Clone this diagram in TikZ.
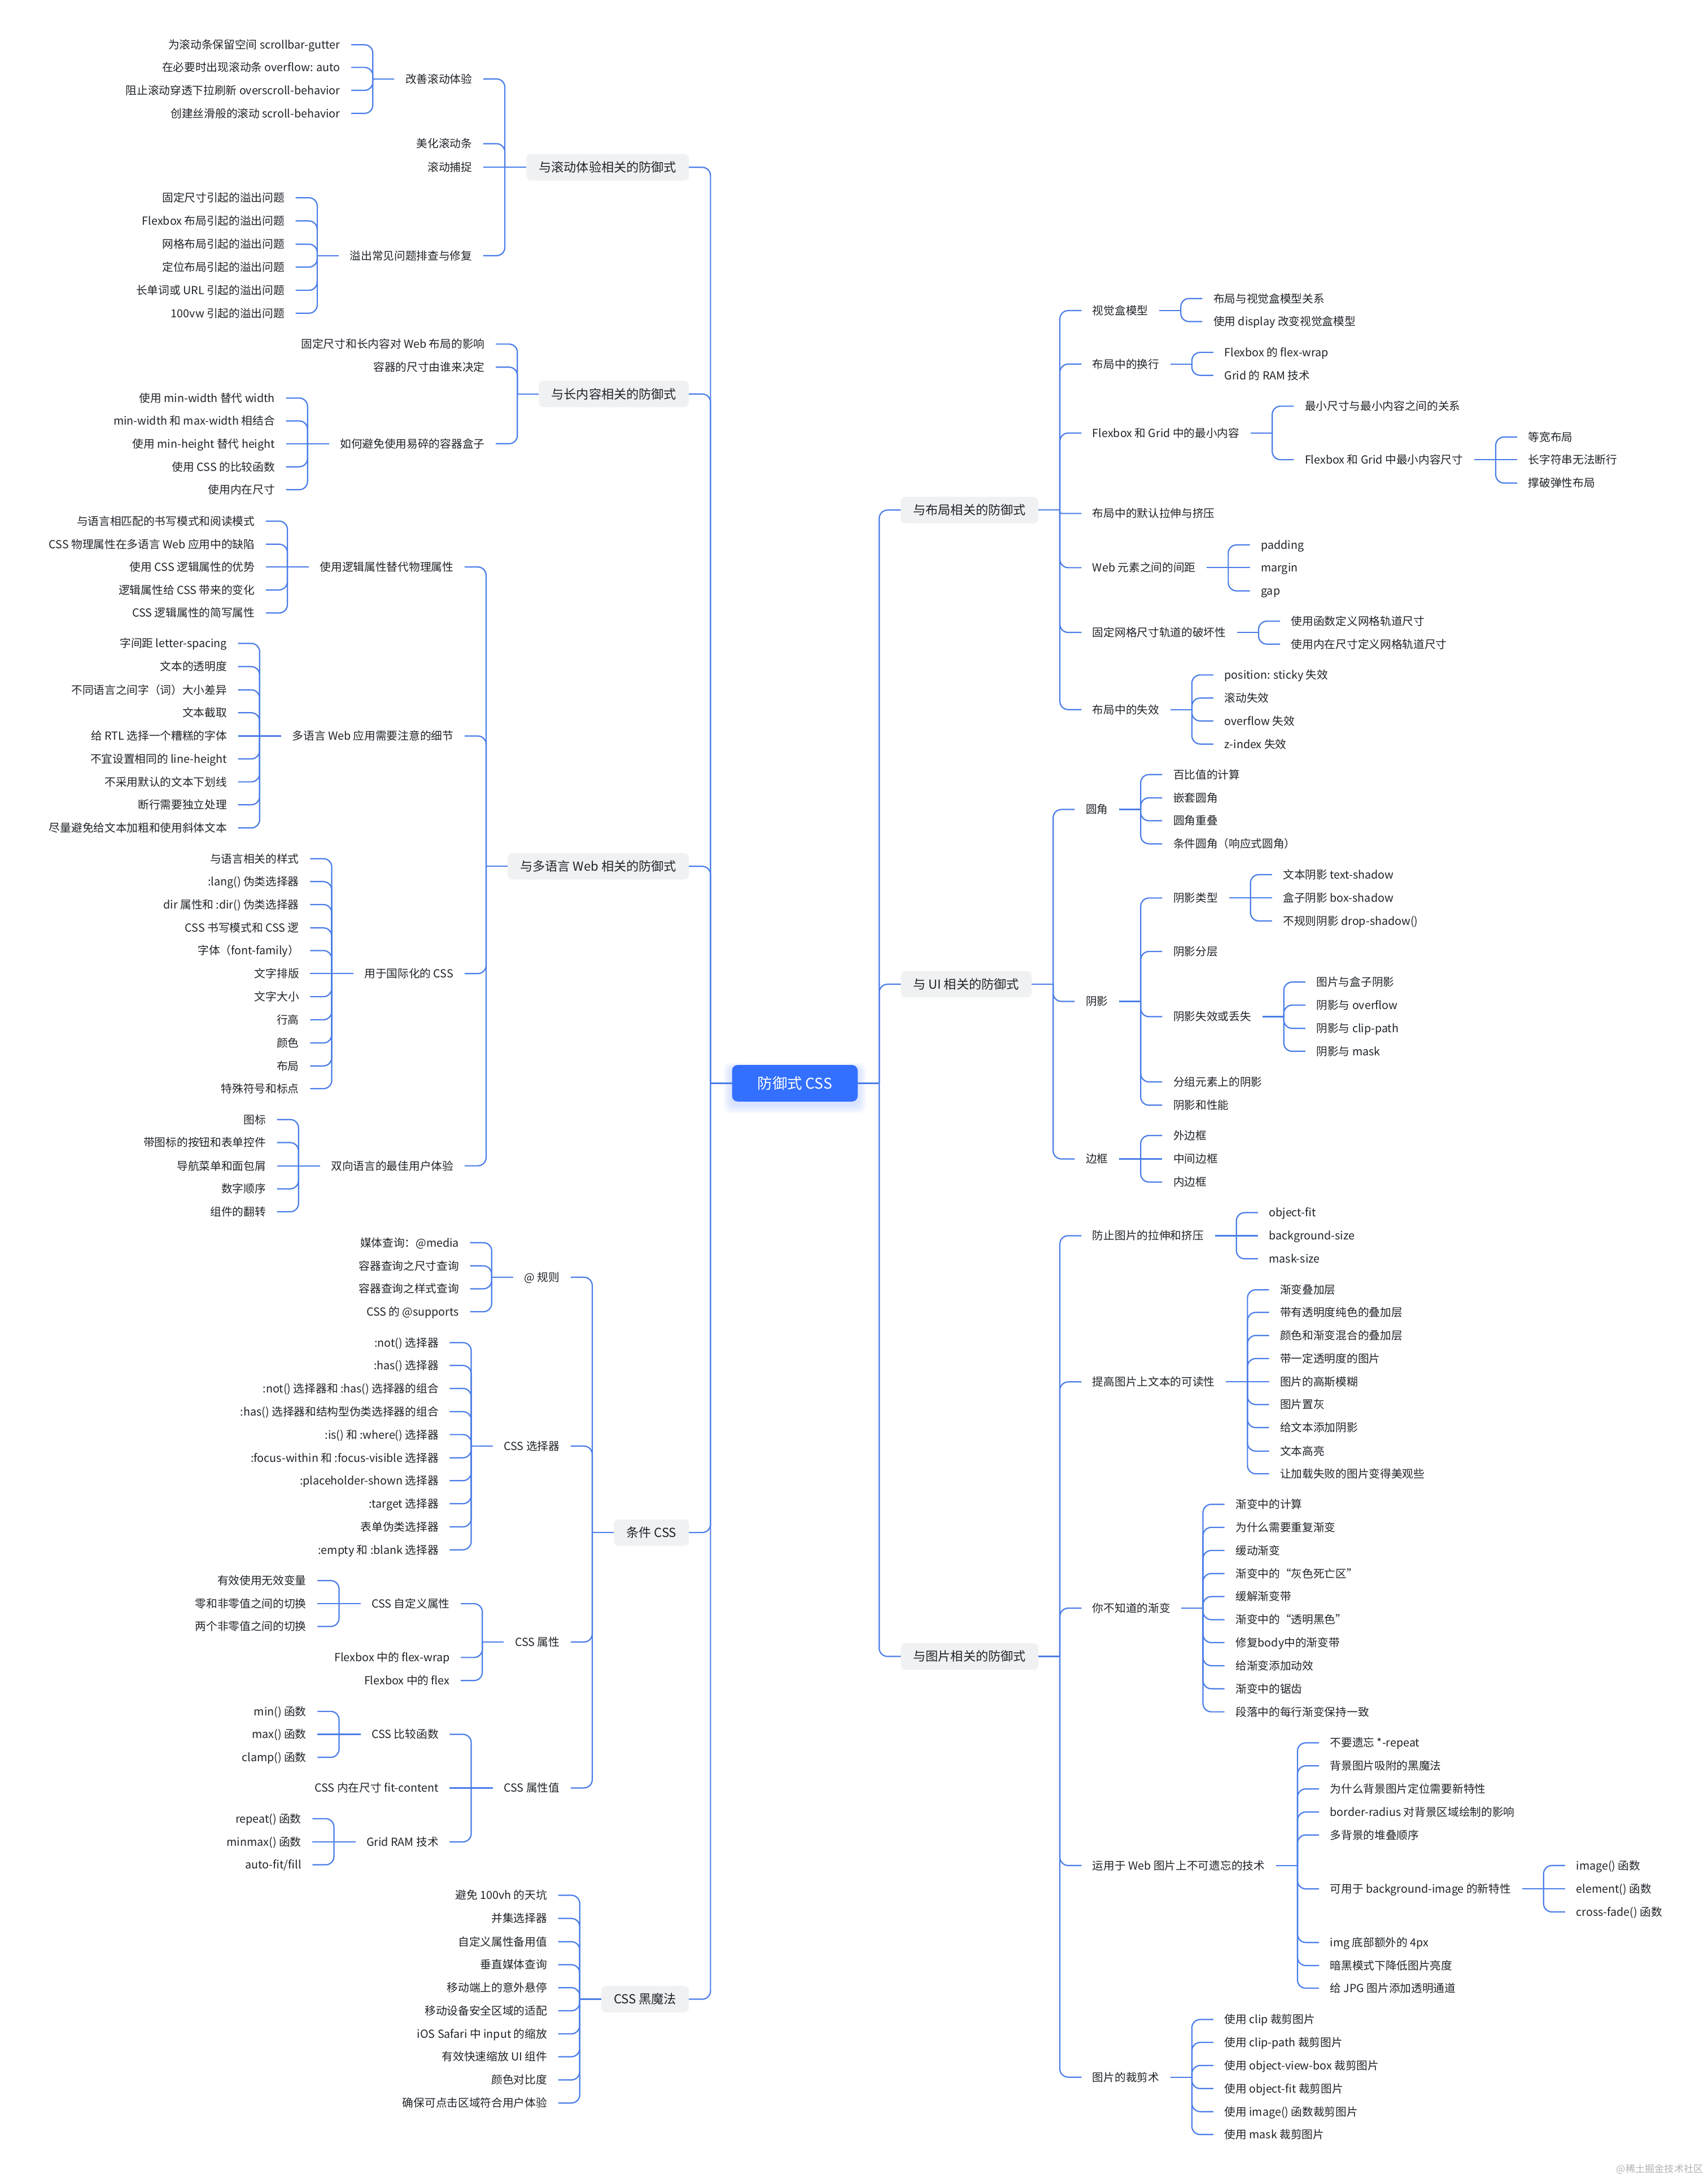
\documentclass[tikz,border=0pt]{standalone}
\usepackage{fontspec}
\setmainfont{Noto Sans CJK SC}
\usetikzlibrary{calc}
\definecolor{lineblue}{HTML}{4A7DE8}
\definecolor{txtc}{HTML}{1F2329}
\definecolor{catgray}{HTML}{F0F1F3}
\definecolor{rootblue}{HTML}{3370FF}
\tikzset{
  conn/.style={draw=lineblue, line width=0.9pt, rounded corners=6pt},
  tx/.style={inner xsep=0pt, inner ysep=1pt, outer xsep=8pt, outer ysep=0pt, text=txtc,
    font=\fontsize{8}{9.6}\selectfont, text height=7pt, text depth=1pt},
  catbox/.style={fill=catgray, rounded corners=3.5pt, inner xsep=9pt, inner ysep=0pt,
    minimum height=19pt, text=txtc, font=\fontsize{9}{10.8}\selectfont,
    text height=7.9pt, text depth=1.1pt, outer sep=0pt},
  rootbox/.style={fill=rootblue, rounded corners=4pt, minimum width=90.4pt, minimum height=26.3pt,
    text=white, font=\fontsize{10.7}{12}\selectfont, text height=9.4pt, text depth=1.3pt, outer sep=0pt},
  wmark/.style={inner sep=0pt, text=black!30, font=\fontsize{7}{8}\selectfont}
}
% left-side child: name, parent, y, text
\newcommand\lkid[5][tx]{\node[#1,anchor=east,xshift=-31pt] (#2) at (#3.west |- 0,#4) {#5};
  \draw[conn] ($(#3.west)+(-15.5pt,0)$) |- (#2.east);}
\newcommand\lmid[4][tx]{\node[#1,anchor=east,xshift=-31pt] (#2) at (#3.west) {#4};
  \draw[conn] (#3.west) -- (#2.east);}
\newcommand\lstub[1]{\draw[conn] (#1.west) -- ++(-15.5pt,0);}
% right-side child
\newcommand\rkid[5][tx]{\node[#1,anchor=west,xshift=31pt] (#2) at (#3.east |- 0,#4) {#5};
  \draw[conn] ($(#3.east)+(15.5pt,0)$) |- (#2.west);}
\newcommand\rmid[4][tx]{\node[#1,anchor=west,xshift=31pt] (#2) at (#3.east) {#4};
  \draw[conn] (#3.east) -- (#2.west);}
\newcommand\rstub[1]{\draw[conn] (#1.east) -- ++(15.5pt,0);}
\begin{document}
\begin{tikzpicture}[x=1pt,y=-1pt]
\fill[white] (0,0) rectangle (1229,1568);
\useasboundingbox (0,0) rectangle (1229,1568);
% soft glow under the root
\foreach \i in {1,...,6}{\fill[rootblue,opacity=0.03,rounded corners=5pt] (526.8-\i,768.4-\i*0.6) rectangle (617.2+\i,794.6+\i*1.1);}
\node[rootbox] (root) at (572,779.5) {防御式 CSS};
\lstub{root}
\rstub{root}
% ================= LEFT =================
\lkid[catbox]{ca}{root}{120.4}{与滚动体验相关的防御式}
\lkid[catbox]{cb}{root}{283.5}{与长内容相关的防御式}
\lkid[catbox]{cc}{root}{623.4}{与多语言 Web 相关的防御式}
\lkid[catbox]{cd}{root}{1102.8}{条件 CSS}
\lkid[catbox]{ce}{root}{1438.6}{CSS 黑魔法}
% --- ca
\lkid{ca1}{ca}{56.8}{改善滚动体验}
\lkid{ca2}{ca}{103.4}{美化滚动条}
\lmid{ca3}{ca}{滚动捕捉}
\lkid{ca4}{ca}{184}{溢出常见问题排查与修复}
\lstub{ca1}
\lkid{ca1a}{ca1}{32.2}{为滚动条保留空间 scrollbar-gutter}
\lkid{ca1b}{ca1}{48.5}{在必要时出现滚动条 overflow: auto}
\lkid{ca1c}{ca1}{65.0}{阻止滚动穿透下拉刷新 overscroll-behavior}
\lkid{ca1d}{ca1}{81.6}{创建丝滑般的滚动 scroll-behavior}
\lstub{ca4}
\lkid{ca4a}{ca4}{142.3}{固定尺寸引起的溢出问题}
\lkid{ca4b}{ca4}{159.0}{Flexbox 布局引起的溢出问题}
\lkid{ca4c}{ca4}{175.7}{网格布局引起的溢出问题}
\lkid{ca4d}{ca4}{192.2}{定位布局引起的溢出问题}
\lkid{ca4e}{ca4}{208.9}{长单词或 URL 引起的溢出问题}
\lkid{ca4f}{ca4}{225.4}{100vw 引起的溢出问题}
% --- cb
\lstub{cb}
\lkid{cb1}{cb}{247.6}{固定尺寸和长内容对 Web 布局的影响}
\lkid{cb2}{cb}{264.2}{容器的尺寸由谁来决定}
\lkid{cb3}{cb}{319.3}{如何避免使用易碎的容器盒子}
\lkid{cb3a}{cb3}{286.4}{使用 min-width 替代 width}
\lkid{cb3b}{cb3}{302.9}{min-width 和 max-width 相结合}
\lmid{cb3c}{cb3}{使用 min-height 替代 height}
\lkid{cb3d}{cb3}{335.9}{使用 CSS 的比较函数}
\lkid{cb3e}{cb3}{352.4}{使用内在尺寸}
% --- cc
\lstub{cc}
\lkid{cc1}{cc}{408}{使用逻辑属性替代物理属性}
\lkid{cc2}{cc}{529.6}{多语言 Web 应用需要注意的细节}
\lkid{cc3}{cc}{700.6}{用于国际化的 CSS}
\lkid{cc4}{cc}{838.9}{双向语言的最佳用户体验}
\lkid{cc1a}{cc1}{375}{与语言相匹配的书写模式和阅读模式}
\lkid{cc1b}{cc1}{391.6}{CSS 物理属性在多语言 Web 应用中的缺陷}
\lmid{cc1c}{cc1}{使用 CSS 逻辑属性的优势}
\lkid{cc1d}{cc1}{424.5}{逻辑属性给 CSS 带来的变化}
\lkid{cc1e}{cc1}{441.1}{CSS 逻辑属性的简写属性}
\lkid{cc2a}{cc2}{463}{字间距 letter-spacing}
\lkid{cc2b}{cc2}{479.7}{文本的透明度}
\lkid{cc2c}{cc2}{496.4}{不同语言之间字（词）大小差异}
\lkid{cc2d}{cc2}{512.9}{文本截取}
\lmid{cc2e}{cc2}{给 RTL 选择一个糟糕的字体}
\lkid{cc2f}{cc2}{546.1}{不宜设置相同的 line-height}
\lkid{cc2g}{cc2}{562.6}{不采用默认的文本下划线}
\lkid{cc2h}{cc2}{579.1}{断行需要独立处理}
\lkid{cc2i}{cc2}{595.8}{尽量避免给文本加粗和使用斜体文本}
\lkid{cc3a}{cc3}{617.9}{与语言相关的样式}
\lkid{cc3b}{cc3}{634.4}{:lang() 伪类选择器}
\lkid{cc3c}{cc3}{650.9}{dir 属性和 :dir() 伪类选择器}
\lkid{cc3d}{cc3}{667.7}{CSS 书写模式和 CSS 逻}
\lkid{cc3e}{cc3}{684}{字体（font-family）}
\lmid{cc3f}{cc3}{文字排版}
\lkid{cc3g}{cc3}{717.2}{文字大小}
\lkid{cc3h}{cc3}{733.8}{行高}
\lkid{cc3i}{cc3}{750.5}{颜色}
\lkid{cc3j}{cc3}{767}{布局}
\lkid{cc3k}{cc3}{783.4}{特殊符号和标点}
\lkid{cc4a}{cc4}{805.6}{图标}
\lkid{cc4b}{cc4}{822.2}{带图标的按钮和表单控件}
\lmid{cc4c}{cc4}{导航菜单和面包屑}
\lkid{cc4d}{cc4}{855.5}{数字顺序}
\lkid{cc4e}{cc4}{872}{组件的翻转}
% --- cd
\lstub{cd}
\lkid{cd1}{cd}{919.1}{@ 规则}
\lkid{cd2}{cd}{1040.6}{CSS 选择器}
\lkid{cd3}{cd}{1181.6}{CSS 属性}
\lkid{cd4}{cd}{1286.6}{CSS 属性值}
\lstub{cd1}
\lkid{cd1a}{cd1}{894.2}{媒体查询：@media}
\lkid{cd1b}{cd1}{910.9}{容器查询之尺寸查询}
\lkid{cd1c}{cd1}{927.4}{容器查询之样式查询}
\lkid{cd1d}{cd1}{943.9}{CSS 的 @supports}
\lstub{cd2}
\lkid{cd2a}{cd2}{966.1}{:not() 选择器}
\lkid{cd2b}{cd2}{982.6}{:has() 选择器}
\lkid{cd2c}{cd2}{999.1}{:not() 选择器和 :has() 选择器的组合}
\lkid{cd2d}{cd2}{1015.8}{:has() 选择器和结构型伪类选择器的组合}
\lkid{cd2e}{cd2}{1032.3}{:is() 和 :where() 选择器}
\lkid{cd2f}{cd2}{1049}{:focus-within 和 :focus-visible 选择器}
\lkid{cd2g}{cd2}{1065.5}{:placeholder-shown 选择器}
\lkid{cd2h}{cd2}{1082}{:target 选择器}
\lkid{cd2i}{cd2}{1098.7}{表单伪类选择器}
\lkid{cd2j}{cd2}{1115.2}{:empty 和 :blank 选择器}
\lstub{cd3}
\lkid{cd3a}{cd3}{1154}{CSS 自定义属性}
\lkid{cd3b}{cd3}{1192.7}{Flexbox 中的 flex-wrap}
\lkid{cd3c}{cd3}{1209.3}{Flexbox 中的 flex}
\lkid{cd3a1}{cd3a}{1137.4}{有效使用无效变量}
\lmid{cd3a2}{cd3a}{零和非零值之间的切换}
\lkid{cd3a3}{cd3a}{1170.4}{两个非零值之间的切换}
\lkid{cd4a}{cd4}{1248}{CSS 比较函数}
\lmid{cd4b}{cd4}{CSS 内在尺寸 fit-content}
\lkid{cd4c}{cd4}{1325.4}{Grid RAM 技术}
\lkid{cd4a1}{cd4a}{1231.5}{min() 函数}
\lmid{cd4a2}{cd4a}{max() 函数}
\lkid{cd4a3}{cd4a}{1264.6}{clamp() 函数}
\lkid{cd4c1}{cd4c}{1308.7}{repeat() 函数}
\lmid{cd4c2}{cd4c}{minmax() 函数}
\lkid{cd4c3}{cd4c}{1341.9}{auto-fit/fill}
% --- ce
\lstub{ce}
\lkid{ce1}{ce}{1363.8}{避免 100vh 的天坑}
\lkid{ce2}{ce}{1380.5}{并集选择器}
\lkid{ce3}{ce}{1397.2}{自定义属性备用值}
\lkid{ce4}{ce}{1413.8}{垂直媒体查询}
\lkid{ce5}{ce}{1430.3}{移动端上的意外悬停}
\lkid{ce6}{ce}{1446.9}{移动设备安全区域的适配}
\lkid{ce7}{ce}{1463.5}{iOS Safari 中 input 的缩放}
\lkid{ce8}{ce}{1480}{有效快速缩放 UI 组件}
\lkid{ce9}{ce}{1496.7}{颜色对比度}
\lkid{ce10}{ce}{1513.3}{确保可点击区域符合用户体验}
% ================= RIGHT =================
\rkid[catbox]{ra}{root}{367.05}{与布局相关的防御式}
\rkid[catbox]{rb}{root}{708.25}{与 UI 相关的防御式}
\rkid[catbox]{rc}{root}{1191.95}{与图片相关的防御式}
% --- ra
\rstub{ra}
\rkid{ra1}{ra}{223.5}{视觉盒模型}
\rkid{ra2}{ra}{262}{布局中的换行}
\rkid{ra3}{ra}{311.6}{Flexbox 和 Grid 中的最小内容}
\node[tx,anchor=west,xshift=31pt] (ra4) at (ra.east |- 0,369.5) {布局中的默认拉伸与挤压};
\draw[conn,rounded corners=1.2pt] ($(ra.east)+(15.5pt,0)$) |- (ra4.west);
\rkid{ra5}{ra}{408.5}{Web 元素之间的间距}
\rkid{ra6}{ra}{455.1}{固定网格尺寸轨道的破坏性}
\rkid{ra7}{ra}{510.6}{布局中的失效}
\rstub{ra1}
\rkid{ra1a}{ra1}{214.8}{布局与视觉盒模型关系}
\rkid{ra1b}{ra1}{231.4}{使用 display 改变视觉盒模型}
\rstub{ra2}
\rkid{ra2a}{ra2}{253.6}{Flexbox 的 flex-wrap}
\rkid{ra2b}{ra2}{270.1}{Grid 的 RAM 技术}
\rstub{ra3}
\rkid{ra3a}{ra3}{292.3}{最小尺寸与最小内容之间的关系}
\rkid{ra3b}{ra3}{330.8}{Flexbox 和 Grid 中最小内容尺寸}
\rkid{ra3b1}{ra3b}{314.5}{等宽布局}
\rmid{ra3b2}{ra3b}{长字符串无法断行}
\rkid{ra3b3}{ra3b}{347.6}{撑破弹性布局}
\rkid{ra5a}{ra5}{392.1}{padding}
\rmid{ra5b}{ra5}{margin}
\rkid{ra5c}{ra5}{425.2}{gap}
\rstub{ra6}
\rkid{ra6a}{ra6}{447}{使用函数定义网格轨道尺寸}
\rkid{ra6b}{ra6}{463.5}{使用内在尺寸定义网格轨道尺寸}
\rstub{ra7}
\rkid{ra7a}{ra7}{485.7}{position: sticky 失效}
\rkid{ra7b}{ra7}{502.3}{滚动失效}
\rkid{ra7c}{ra7}{518.8}{overflow 失效}
\rkid{ra7d}{ra7}{535.4}{z-index 失效}
% --- rb
\rstub{rb}
\rkid{rb1}{rb}{582.5}{圆角}
\rkid{rb2}{rb}{720.6}{阴影}
\rkid{rb3}{rb}{834}{边框}
\rstub{rb1}
\rkid{rb1a}{rb1}{557.4}{百比值的计算}
\rkid{rb1b}{rb1}{574.1}{嵌套圆角}
\rkid{rb1c}{rb1}{590.6}{圆角重叠}
\rkid{rb1d}{rb1}{607.2}{条件圆角（响应式圆角）}
\rstub{rb2}
\rkid{rb2a}{rb2}{646.2}{阴影类型}
\rkid{rb2b}{rb2}{684.7}{阴影分层}
\rkid{rb2c}{rb2}{731.6}{阴影失效或丢失}
\rkid{rb2d}{rb2}{778.5}{分组元素上的阴影}
\rkid{rb2e}{rb2}{795.3}{阴影和性能}
\rkid{rb2a1}{rb2a}{629.4}{文本阴影 text-shadow}
\rmid{rb2a2}{rb2a}{盒子阴影 box-shadow}
\rkid{rb2a3}{rb2a}{662.7}{不规则阴影 drop-shadow()}
\rstub{rb2c}
\rkid{rb2c1}{rb2c}{706.7}{图片与盒子阴影}
\rkid{rb2c2}{rb2c}{723.3}{阴影与 overflow}
\rkid{rb2c3}{rb2c}{740}{阴影与 clip-path}
\rkid{rb2c4}{rb2c}{756.5}{阴影与 mask}
\rkid{rb3a}{rb3}{817.1}{外边框}
\rmid{rb3b}{rb3}{中间边框}
\rkid{rb3c}{rb3}{850.6}{内边框}
% --- rc
\rstub{rc}
\rkid{rc1}{rc}{889.2}{防止图片的拉伸和挤压}
\rkid{rc2}{rc}{994.4}{提高图片上文本的可读性}
\rkid{rc3}{rc}{1157.2}{你不知道的渐变}
\rkid{rc4}{rc}{1342.4}{运用于 Web 图片上不可遗忘的技术}
\rkid{rc5}{rc}{1494.7}{图片的裁剪术}
\rkid{rc1a}{rc1}{872.6}{object-fit}
\rmid{rc1b}{rc1}{background-size}
\rkid{rc1c}{rc1}{905.8}{mask-size}
\rkid{rc2a}{rc2}{928.1}{渐变叠加层}
\rkid{rc2b}{rc2}{944.4}{带有透明度纯色的叠加层}
\rkid{rc2c}{rc2}{961}{颜色和渐变混合的叠加层}
\rkid{rc2d}{rc2}{977.6}{带一定透明度的图片}
\rmid{rc2e}{rc2}{图片的高斯模糊}
\rkid{rc2f}{rc2}{1010.7}{图片置灰}
\rkid{rc2g}{rc2}{1027.3}{给文本添加阴影}
\rkid{rc2h}{rc2}{1044.2}{文本高亮}
\rkid{rc2i}{rc2}{1060.5}{让加载失败的图片变得美观些}
\rstub{rc3}
\rkid{rc3a}{rc3}{1082.5}{渐变中的计算}
\rkid{rc3b}{rc3}{1099.1}{为什么需要重复渐变}
\rkid{rc3c}{rc3}{1115.7}{缓动渐变}
\rkid{rc3d}{rc3}{1132.3}{渐变中的“灰色死亡区”}
\rkid{rc3e}{rc3}{1148.9}{缓解渐变带}
\rkid{rc3f}{rc3}{1165.5}{渐变中的“透明黑色”}
\rkid{rc3g}{rc3}{1182}{修复body中的渐变带}
\rkid{rc3h}{rc3}{1198.6}{给渐变添加动效}
\rkid{rc3i}{rc3}{1215.2}{渐变中的锯齿}
\rkid{rc3j}{rc3}{1231.8}{段落中的每行渐变保持一致}
\rstub{rc4}
\rkid{rc4a}{rc4}{1254.1}{不要遗忘 *-repeat}
\rkid{rc4b}{rc4}{1270.7}{背景图片吸附的黑魔法}
\rkid{rc4c}{rc4}{1287.3}{为什么背景图片定位需要新特性}
\rkid{rc4d}{rc4}{1303.9}{border-radius 对背景区域绘制的影响}
\rkid{rc4e}{rc4}{1320.4}{多背景的堆叠顺序}
\rkid{rc4f}{rc4}{1359.2}{可用于 background-image 的新特性}
\rkid{rc4g}{rc4}{1397.8}{img 底部额外的 4px}
\rkid{rc4h}{rc4}{1414.4}{暗黑模式下降低图片亮度}
\rkid{rc4i}{rc4}{1430.7}{给 JPG 图片添加透明通道}
\rkid{rc4f1}{rc4f}{1342.4}{image() 函数}
\rmid{rc4f2}{rc4f}{element() 函数}
\rkid{rc4f3}{rc4f}{1375.8}{cross-fade() 函数}
\rstub{rc5}
\rkid{rc5a}{rc5}{1453.2}{使用 clip 裁剪图片}
\rkid{rc5b}{rc5}{1469.7}{使用 clip-path 裁剪图片}
\rkid{rc5c}{rc5}{1486.3}{使用 object-view-box 裁剪图片}
\rkid{rc5d}{rc5}{1502.9}{使用 object-fit 裁剪图片}
\rkid{rc5e}{rc5}{1519.5}{使用 image() 函数裁剪图片}
\rkid{rc5f}{rc5}{1536}{使用 mask 裁剪图片}
% watermark
\node[wmark,anchor=east] (wm) at (1226,1561) {@稀土掘金技术社区};
\end{tikzpicture}
\end{document}
